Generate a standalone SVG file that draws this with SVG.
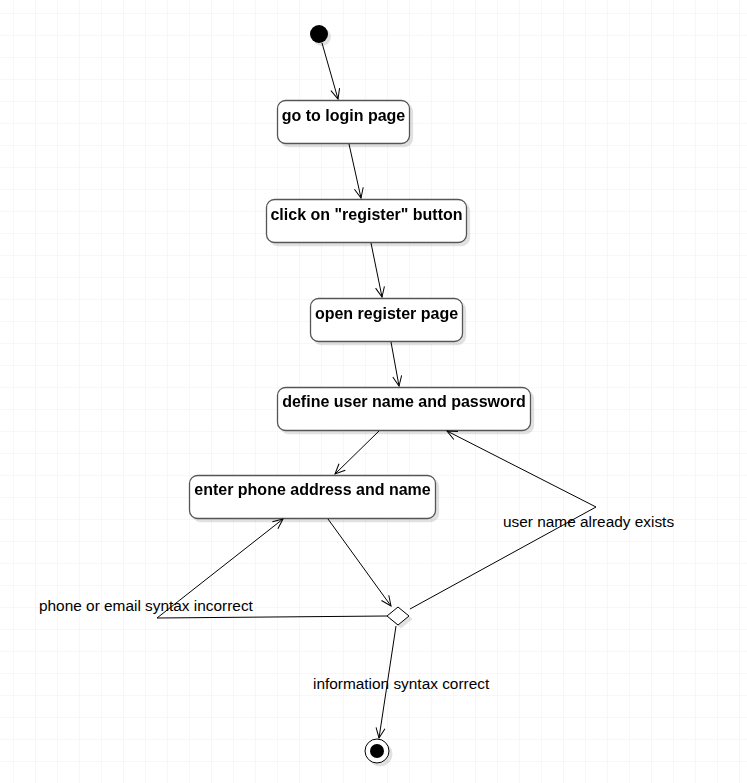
<svg xmlns="http://www.w3.org/2000/svg" width="747" height="783" viewBox="0 0 747 783">
<defs>
<pattern id="grid" x="13" y="13" width="22" height="22" patternUnits="userSpaceOnUse">
<path d="M0,0 H22 M0,0 V22" fill="none" stroke="#efefef" stroke-width="1"/>
</pattern>
<marker id="arr" markerUnits="userSpaceOnUse" markerWidth="14" markerHeight="12" viewBox="-11 -6 12 12" refX="0" refY="0" orient="auto" overflow="visible">
<path d="M-10,-4.5 L0,0 L-10,4.5" fill="none" stroke="#000" stroke-width="1"/>
</marker>
<filter id="sh" x="-20%" y="-20%" width="140%" height="160%">
<feOffset dx="3" dy="3" in="SourceAlpha"/>
<feComponentTransfer><feFuncA type="linear" slope="0.12"/></feComponentTransfer>
<feMerge><feMergeNode/><feMergeNode in="SourceGraphic"/></feMerge>
</filter>
</defs>
<style>
.box{fill:#fff;stroke:#555;stroke-width:1.3}
.lbl{font-family:"Liberation Sans",Arial,sans-serif;font-size:16px;font-weight:bold;fill:#000;text-anchor:middle}
.el{font-family:"Liberation Sans",Arial,sans-serif;font-size:15.4px;fill:#000}
.edge{fill:none;stroke:#000;stroke-width:1}
</style>
<rect width="747" height="783" fill="#fff"/>
<rect width="747" height="783" fill="url(#grid)"/>

<g id="start" filter="url(#sh)">
<circle cx="319" cy="34" r="9" fill="#000"/>
</g>
<g id="n1" filter="url(#sh)">
<rect class="box" x="277.5" y="100.5" width="132" height="43" rx="8"/>
<text class="lbl" x="343.5" y="121">go to login page</text>
</g>
<g id="n2" filter="url(#sh)">
<rect class="box" x="266.5" y="199.5" width="200" height="43" rx="8"/>
<text class="lbl" x="366.5" y="220">click on "register" button</text>
</g>
<g id="n3" filter="url(#sh)">
<rect class="box" x="310.5" y="298.5" width="152" height="43" rx="8"/>
<text class="lbl" x="386.5" y="319">open register page</text>
</g>
<g id="n4" filter="url(#sh)">
<rect class="box" x="277.5" y="387.5" width="253" height="43" rx="8"/>
<text class="lbl" x="404" y="407">define user name and password</text>
</g>
<g id="n5" filter="url(#sh)">
<rect class="box" x="189.5" y="475.5" width="246" height="43" rx="8"/>
<text class="lbl" x="312.5" y="495">enter phone address and name</text>
</g>
<g id="decision" filter="url(#sh)">
<path d="M398,607 L409,616 L398,625 L387,616 Z" fill="#fff" stroke="#000" stroke-width="1"/>
</g>
<g id="end" filter="url(#sh)">
<circle cx="377" cy="751" r="12" fill="#fff" stroke="#000" stroke-width="1"/>
<circle cx="377" cy="751" r="7" fill="#000"/>
</g>

<g id="connectors">
<path class="edge" d="M322,43 L338,99" marker-end="url(#arr)"/>
<path class="edge" d="M349,144 L361,198" marker-end="url(#arr)"/>
<path class="edge" d="M371,243 L382,297" marker-end="url(#arr)"/>
<path class="edge" d="M391,342 L399,386" marker-end="url(#arr)"/>
<path class="edge" d="M379,431 L335,474" marker-end="url(#arr)"/>
<path class="edge" d="M328,519 L391,606" marker-end="url(#arr)"/>
<path class="edge" d="M410,609 L596,507 L447,431" marker-end="url(#arr)"/>
<path class="edge" d="M387,616 L157,618 L283,519" marker-end="url(#arr)"/>
<path class="edge" d="M396,626 L379,738" marker-end="url(#arr)"/>
<text class="el" x="503" y="527">user name already exists</text>
<text class="el" x="39" y="611">phone or email syntax incorrect</text>
<text class="el" x="313" y="689">information syntax correct</text>
</g>
</svg>
